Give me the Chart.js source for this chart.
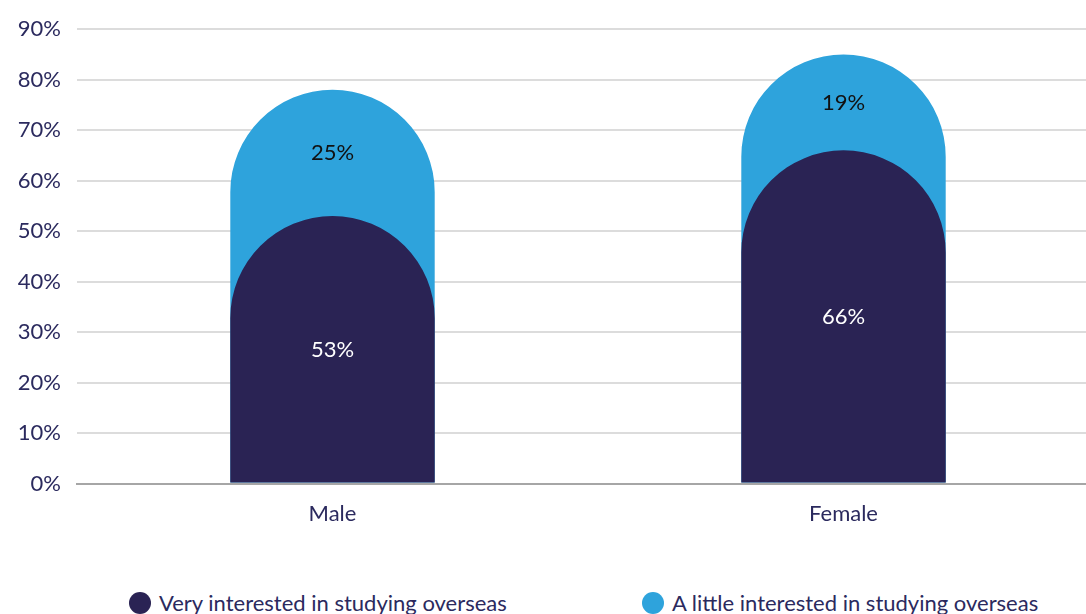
<!DOCTYPE html>
<html>
<head>
<meta charset="utf-8">
<script src="https://cdn.jsdelivr.net/npm/chart.js@4"></script>
<style>
  html, body { margin: 0; padding: 0; background: #fff; overflow: hidden; }
  #wrap { position: relative; width: 1086px; height: 614px; overflow: hidden; }
  #box { position: absolute; left: 0; top: 0; width: 1099px; height: 544px; }
  .legend { position: absolute; top: 589px; display: flex; align-items: center;
    font-family: Lato, "Open Sans", sans-serif; font-size: 22px; color: #2b2a5e; white-space: nowrap; }
  .dot { width: 22px; height: 22px; border-radius: 50%; margin-right: 8px; }
</style>
</head>
<body>
<div id="wrap">
  <div id="box"><canvas id="chart"></canvas></div>
  <div class="legend" style="left:129px"><span class="dot" style="background:#2a2354"></span>Very interested in studying overseas</div>
  <div class="legend" style="left:642px"><span class="dot" style="background:#2ea3dc"></span>A little interested in studying overseas</div>
</div>
<script>
// datos
const categories = ['Male', 'Female'];
const veryInterested = [53, 66];
const littleInterested = [25, 19];
const yTicks = [0, 10, 20, 30, 40, 50, 60, 70, 80, 90];

const textColor = '#2b2a5e';
const fontFamily = 'Lato, "Open Sans", sans-serif';

// totales para la barra clara (va detrás de la oscura)
const totals = veryInterested.map((v, i) => v + littleInterested[i]);

// etiquetas dentro de cada barra
const barLabels = {
    id: 'barLabels',
    afterDatasetsDraw(chart) {
        const ctx = chart.ctx;
        const y = chart.scales.y;
        ctx.save();
        ctx.font = '22px ' + fontFamily;
        ctx.textAlign = 'center';
        ctx.textBaseline = 'middle';
        chart.getDatasetMeta(0).data.forEach((bar, i) => {
            ctx.fillStyle = '#ffffff';
            ctx.fillText(veryInterested[i] + '%', bar.x, y.getPixelForValue(veryInterested[i] / 2));
            ctx.fillStyle = '#111111';
            ctx.fillText(littleInterested[i] + '%', bar.x,
                y.getPixelForValue(veryInterested[i] + littleInterested[i] / 2));
        });
        ctx.restore();
    }
};

const roundTop = { topLeft: 103, topRight: 103, bottomLeft: 0, bottomRight: 0 };

new Chart(document.getElementById('chart'), {
    type: 'bar',
    data: {
        labels: categories,
        datasets: [{
            label: 'Very interested in studying overseas',
            data: veryInterested,
            backgroundColor: '#2a2354',
            borderRadius: roundTop,
            borderSkipped: 'start'
        }, {
            label: 'A little interested in studying overseas',
            data: totals,
            backgroundColor: '#2ea3dc',
            borderRadius: roundTop,
            borderSkipped: 'start'
        }]
    },
    options: {
        responsive: true,
        maintainAspectRatio: false,
        animation: false,
        layout: { padding: { top: 28, left: 0, right: 0, bottom: 8 } },
        datasets: { bar: { grouped: false, categoryPercentage: 1, barPercentage: 0.4 } },
        plugins: { legend: { display: false }, tooltip: { enabled: false } },
        scales: {
            x: {
                grid: { display: false },
                border: { color: '#a6a6a6', width: 2 },
                ticks: { color: textColor, font: { family: fontFamily, size: 22 }, padding: 9 }
            },
            y: {
                min: 0,
                max: 90,
                afterBuildTicks(scale) { scale.ticks = yTicks.map(v => ({ value: v })); },
                afterFit(scale) { scale.width = 77; },
                grid: { color: '#dcdcdc', lineWidth: 2, drawTicks: false },
                border: { display: false },
                ticks: {
                    color: textColor,
                    font: { family: fontFamily, size: 22 },
                    padding: 16,
                    callback: v => v + '%'
                }
            }
        }
    },
    plugins: [barLabels]
});
</script>
</body>
</html>
